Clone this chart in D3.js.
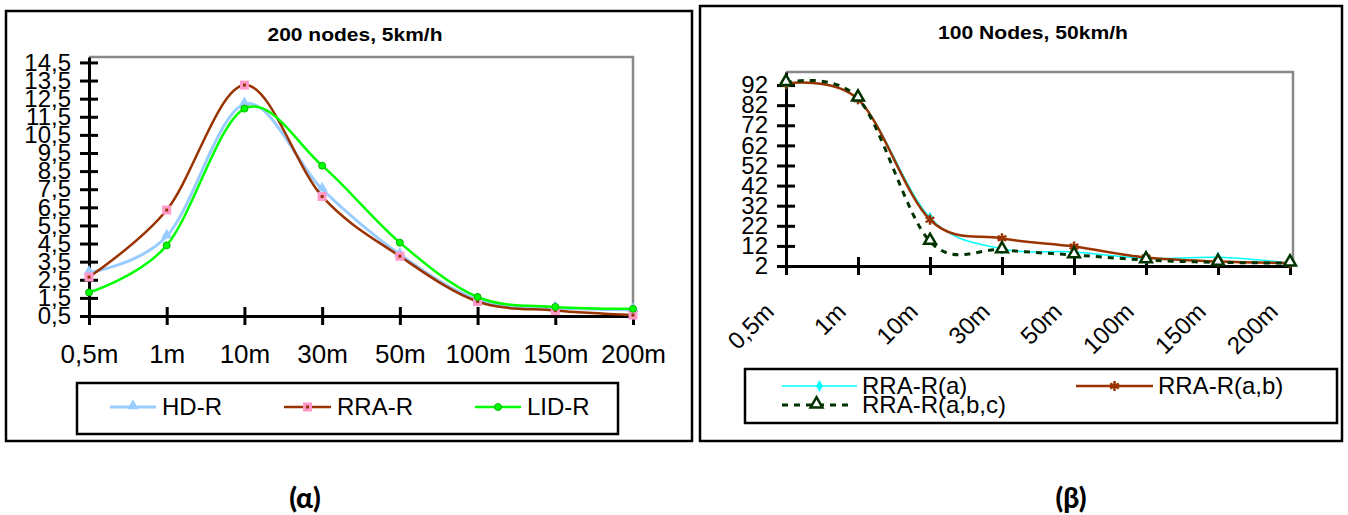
<!DOCTYPE html>
<html>
<head>
<meta charset="utf-8">
<script src="https://cdn.jsdelivr.net/npm/d3@7"></script>
<style>
body{margin:0;background:#fff;}
svg{display:block;font-family:"Liberation Sans",Arial,sans-serif;}
</style>
</head>
<body>
<svg id="chart" width="1348" height="515"></svg>
<script>
// categories shared by both panels
var categories = ["0,5m","1m","10m","30m","50m","100m","150m","200m"];

// panel (a): 200 nodes, 5km/h
var hdR  = [2.9, 4.9, 12.2, 7.5, 3.9, 1.4, 0.95, 0.85];
var rraR = [2.65, 6.35, 13.25, 7.1, 3.8, 1.3, 0.8, 0.55];
var lidR = [1.8, 4.4, 11.95, 8.8, 4.55, 1.55, 1.0, 0.9];
var leftTicks = [0.5,1.5,2.5,3.5,4.5,5.5,6.5,7.5,8.5,9.5,10.5,11.5,12.5,13.5,14.5];

// panel (b): 100 nodes, 50km/h
var rraA   = [92.7, 85, 26, 10.5, 9, 5.8, 6.3, 3.5];
var rraAB  = [92.7, 85, 25, 15.8, 11.7, 6.2, 4.3, 3.5];
var rraABC = [93.2, 85.5, 14.2, 10, 7.5, 5, 3.8, 3.5];
var rightTicks = [2,12,22,32,42,52,62,72,82,92];

var svg = d3.select("#chart");
var comma = function(d){ return String(d).replace(".", ","); };

function marker(g, type, x, y){
  if(type=="tri"){
    g.append("path").attr("d", d3.symbol(d3.symbolTriangle, 55)())
      .attr("transform","translate("+x+","+(y-1)+")").attr("fill","#99CCFF");
  } else if(type=="sq"){
    g.append("rect").attr("x",x-4.5).attr("y",y-4.5).attr("width",9).attr("height",9)
      .attr("fill","#FF99CC");
    g.append("rect").attr("x",x-1.5).attr("y",y-1.5).attr("width",3).attr("height",3)
      .attr("fill","#993300");
  } else if(type=="dot"){
    g.append("circle").attr("cx",x).attr("cy",y).attr("r",3.5)
      .attr("fill","#00FF00").attr("stroke","#00B400").attr("stroke-width",1);
  } else if(type=="dia"){
    g.append("path").attr("d", d3.symbol(d3.symbolDiamond, 40)())
      .attr("transform","translate("+x+","+y+")").attr("fill","#00FFFF");
  } else if(type=="star"){
    g.append("path").attr("d", d3.symbol(d3.symbolAsterisk, 70)())
      .attr("transform","translate("+x+","+y+")").attr("fill","none")
      .attr("stroke","#993300").attr("stroke-width",2.5);
  } else if(type=="otri"){
    g.append("path").attr("d", d3.symbol(d3.symbolTriangle, 60)())
      .attr("transform","translate("+x+","+(y-1)+")").attr("fill","#fff")
      .attr("stroke","#003300").attr("stroke-width",2.5);
  }
}

function drawPanel(cfg){
  var g = svg.append("g");
  g.append("rect").attr("x",cfg.frame[0]).attr("y",cfg.frame[1])
    .attr("width",cfg.frame[2]).attr("height",cfg.frame[3])
    .attr("fill","#fff").attr("stroke","#000").attr("stroke-width",2.5);

  g.append("text").attr("x",cfg.titleX).attr("y",cfg.titleY)
    .attr("text-anchor","middle").attr("font-weight","bold").attr("font-size",18)
    .attr("textLength",cfg.titleW).attr("lengthAdjust","spacingAndGlyphs")
    .text(cfg.title);

  var x = d3.scalePoint().domain(categories).range([cfg.x0, cfg.x1]);
  var y = d3.scaleLinear().domain(cfg.yDomain).range([cfg.yBottom, cfg.yTop]);

  // grey plot-area border (top & right)
  g.append("path")
    .attr("d","M"+cfg.x0+","+cfg.yTop+"H"+cfg.frameRight+"V"+cfg.yBottom)
    .attr("fill","none").attr("stroke","#888").attr("stroke-width",2.5);

  var ya = g.append("g").attr("transform","translate("+cfg.x0+",0)")
    .call(d3.axisLeft(y).tickValues(cfg.ticks).tickFormat(comma)
      .tickSizeInner(9).tickSizeOuter(0).tickPadding(9));
  ya.select(".domain").attr("stroke-width",3);
  ya.selectAll(".tick line").attr("x1",-9).attr("x2",9).attr("stroke-width",3);
  ya.selectAll("text").style("font-size","24px").attr("fill","#000")
    .attr("font-family","'Liberation Sans',Arial,sans-serif");

  var xa = g.append("g").attr("transform","translate(0,"+cfg.yBottom+")")
    .call(d3.axisBottom(x).tickSizeInner(9).tickSizeOuter(0).tickPadding(19.5));
  xa.select(".domain").attr("stroke-width",3);
  xa.selectAll(".tick line").attr("y1",-9).attr("y2",9).attr("stroke-width",3);
  var xt = xa.selectAll("text").attr("fill","#000")
    .attr("font-family","'Liberation Sans',Arial,sans-serif");
  if(cfg.rotate){
    xt.style("font-size","24px").attr("y",0).attr("dy",null)
      .attr("text-anchor","end")
      .attr("transform","translate(-11,47) rotate(-45)");
  } else {
    xt.style("font-size","26px");
  }

  var line = d3.line()
    .x(function(d,i){ return x(categories[i]); })
    .y(function(d){ return y(d); })
    .curve(d3.curveCardinal.tension(0));

  cfg.series.forEach(function(s){
    g.append("path").datum(s.values).attr("d",line)
      .attr("fill","none").attr("stroke",s.color).attr("stroke-width",s.width)
      .attr("stroke-dasharray",s.dash||null);
    var mg = g.append("g");
    s.values.forEach(function(v,i){ marker(mg, s.marker, x(categories[i]), y(v)); });
  });

  // legend
  g.append("rect").attr("x",cfg.legend[0]).attr("y",cfg.legend[1])
    .attr("width",cfg.legend[2]).attr("height",cfg.legend[3])
    .attr("fill","#fff").attr("stroke","#000").attr("stroke-width",2.5);
  cfg.series.forEach(function(s,i){
    var p = cfg.legendPos[i];
    g.append("line").attr("x1",p[0]).attr("x2",p[1]).attr("y1",p[2]).attr("y2",p[2])
      .attr("stroke",s.color).attr("stroke-width",s.width)
      .attr("stroke-dasharray",s.dash||null);
    marker(g, s.marker, (p[0]+p[1])/2, p[2]);
    g.append("text").attr("x",p[3]).attr("y",p[4]).attr("font-size",24).text(s.name);
  });
}

drawPanel({
  frame:[6,11,686,430], title:"200 nodes, 5km/h", titleX:355, titleY:41, titleW:175,
  x0:89, x1:633, frameRight:633, yTop:57, yBottom:316, yDomain:[0.5,14.8],
  ticks:leftTicks, rotate:false,
  series:[
    {name:"HD-R", values:hdR, color:"#99CCFF", width:3, marker:"tri"},
    {name:"RRA-R", values:rraR, color:"#993300", width:2.5, marker:"sq"},
    {name:"LID-R", values:lidR, color:"#00FF00", width:2.5, marker:"dot"}
  ],
  legend:[77,383,541,51],
  legendPos:[[110,156,407,162,415],[284,331,407,337,415],[475,521,407,527,415]]
});

drawPanel({
  frame:[700,6,642,435], title:"100 Nodes, 50km/h", titleX:1033, titleY:39, titleW:190,
  x0:786, x1:1290, frameRight:1293, yTop:72, yBottom:266, yDomain:[2,98.5],
  ticks:rightTicks, rotate:true,
  series:[
    {name:"RRA-R(a)", values:rraA, color:"#00FFFF", width:1.5, marker:"dia"},
    {name:"RRA-R(a,b)", values:rraAB, color:"#993300", width:2.5, marker:"star"},
    {name:"RRA-R(a,b,c)", values:rraABC, color:"#003300", width:3, dash:"6,6", marker:"otri"}
  ],
  legend:[745,369,592,54],
  legendPos:[[782,857,386,862,394],[1076,1153,386,1158,394],[782,851,405,862,413]]
});

// panel captions
svg.append("text").attr("x",305).attr("y",508).attr("text-anchor","middle")
  .attr("font-size",28).attr("font-weight",900).attr("font-family","Lato, sans-serif")
  .text("(α)");
svg.append("text").attr("x",1071).attr("y",508).attr("text-anchor","middle")
  .attr("font-size",28).attr("font-weight",900).attr("font-family","Lato, sans-serif")
  .text("(β)");
</script>
</body>
</html>
